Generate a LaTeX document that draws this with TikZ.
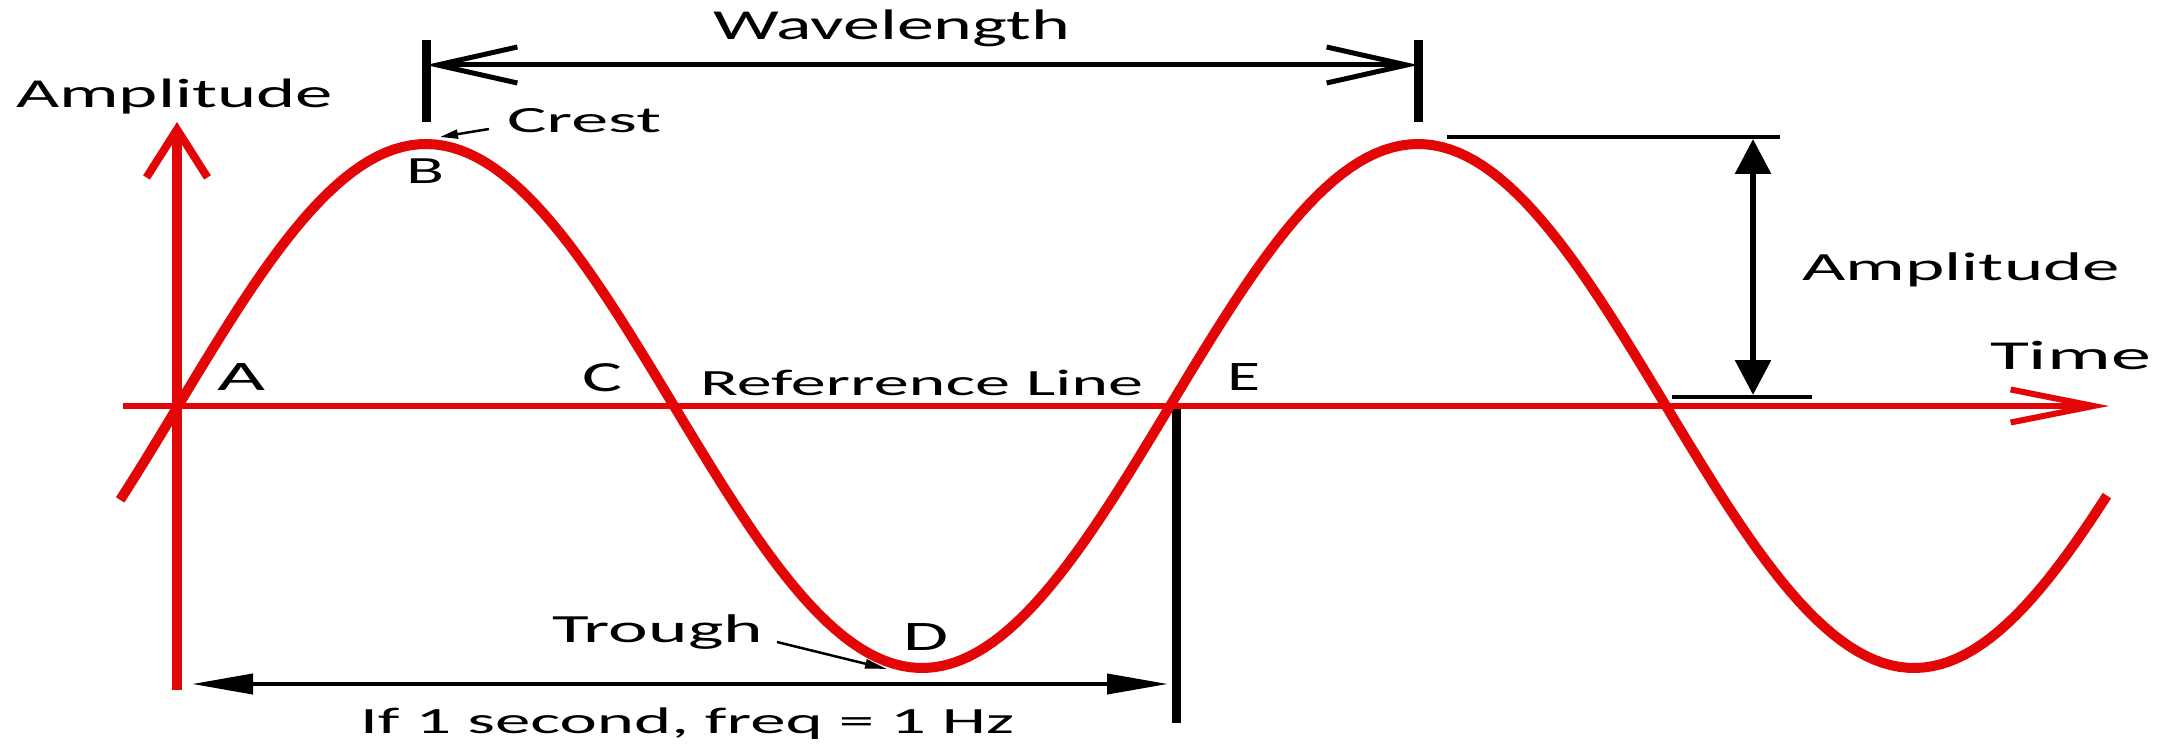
\documentclass[tikz,border=0pt]{standalone}
\usepackage{fontspec}
\setmainfont{Carlito}
\usepackage{graphicx}
\usetikzlibrary{arrows.meta}
\definecolor{wavered}{RGB}{226,6,6}
\newcommand\stxt[3]{\resizebox{#1pt}{\height}{\fontsize{#2pt}{#2pt}\selectfont #3}}
\begin{document}
\begin{tikzpicture}[x=1pt,y=-1pt,
  lbl/.style={anchor=base west, inner sep=0pt, outer sep=0pt, text=black},
  redline/.style={draw=wavered, line cap=butt},
  blkline/.style={draw=black, line cap=butt},
]
\useasboundingbox[fill=white] (0,0) rectangle (2167,746);

% --- coordinates ---
\coordinate (vbot) at (177,690);
\coordinate (vtop) at (177,122);
\coordinate (hleft) at (123,406);
\coordinate (hright) at (2109,406);
\coordinate (wl) at (426,65);
\coordinate (wr) at (1418,65);
\coordinate (wlt) at (426,40);
\coordinate (wlb) at (426,122);
\coordinate (wrt) at (1418,40);
\coordinate (wrb) at (1418,122);
\coordinate (atl) at (1447,137);
\coordinate (atr) at (1780,137);
\coordinate (abl) at (1672,397);
\coordinate (abr) at (1812,397);
\coordinate (aat) at (1753,139);
\coordinate (aab) at (1753,395);
\coordinate (fl) at (192,684);
\coordinate (fr) at (1168,684);
\coordinate (et) at (1176,406);
\coordinate (eb) at (1176,723);
\coordinate (crs) at (489,129);
\coordinate (cre) at (440,137);
\coordinate (trs) at (777,642);
\coordinate (tre) at (887,669);

% --- black construction lines ---
\draw[blkline, line width=9pt] (et) -- (eb);
\draw[blkline, line width=9pt] (wlt) -- (wlb);
\draw[blkline, line width=9pt] (wrt) -- (wrb);
\draw[blkline, line width=5pt,
  {Straight Barb[length=80pt,width=36pt,line width=5pt]}-{Straight Barb[length=80pt,width=36pt,line width=5pt]}] (wl) -- (wr);
\draw[blkline, line width=4pt] (atl) -- (atr);
\draw[blkline, line width=4pt] (abl) -- (abr);
\draw[blkline, line width=6pt,
  {Triangle[length=35pt,width=35pt]}-{Triangle[length=35pt,width=35pt]}] (aat) -- (aab);
\draw[blkline, line width=4pt,
  {Triangle[length=61pt,width=20pt]}-{Triangle[length=61pt,width=20pt]}] (fl) -- (fr);
\draw[blkline, line width=2.5pt, -{Triangle[length=18pt,width=9pt]}] (crs) -- (cre);
\draw[blkline, line width=2.5pt, -{Triangle[length=22pt,width=9pt]}] (trs) -- (tre);

% --- red axes ---
\draw[redline, line width=10pt,
  -{Straight Barb[length=48pt,width=61pt,line width=8pt]}] (vbot) -- (vtop);
\draw[redline, line width=6pt,
  -{Straight Barb[length=83pt,width=33pt,line width=6pt]}] (hleft) -- (hright);

% --- sine wave ---
\draw[redline, line width=10pt] plot[domain=-21:700, samples=240] ({178+2.75556*\x},{406-262*sin(\x)});

% --- labels ---
\node[lbl] (twave) at (713,40) {\stxt{357}{42.7}{Wavelength}};
\node[lbl] (tampl) at (16,108) {\stxt{317}{41.1}{Amplitude}};
\node[lbl] (tcrest) at (507,133) {\stxt{154}{37}{Crest}};
\node[lbl] (tB) at (406,184) {\stxt{38}{38.5}{B}};
\node[lbl] (tA) at (217,390) {\stxt{48}{42}{A}};
\node[lbl] (tC) at (582,391) {\stxt{40}{43}{C}};
\node[lbl] (tref) at (700,395) {\stxt{443}{37}{Referrence Line}};
\node[lbl] (tE) at (1227,390) {\stxt{33}{42}{E}};
\node[lbl] (ttime) at (1990,369) {\stxt{161}{41.1}{Time}};
\node[lbl] (tampr) at (1802,280) {\stxt{318}{40}{Amplitude}};
\node[lbl] (ttrough) at (552,642) {\stxt{211}{40}{Trough}};
\node[lbl] (tD) at (903,650) {\stxt{45}{42}{D}};
\node[lbl] (tfreq) at (360,733) {\stxt{654}{37}{If 1 second, freq = 1 Hz}};
\end{tikzpicture}
\end{document}
